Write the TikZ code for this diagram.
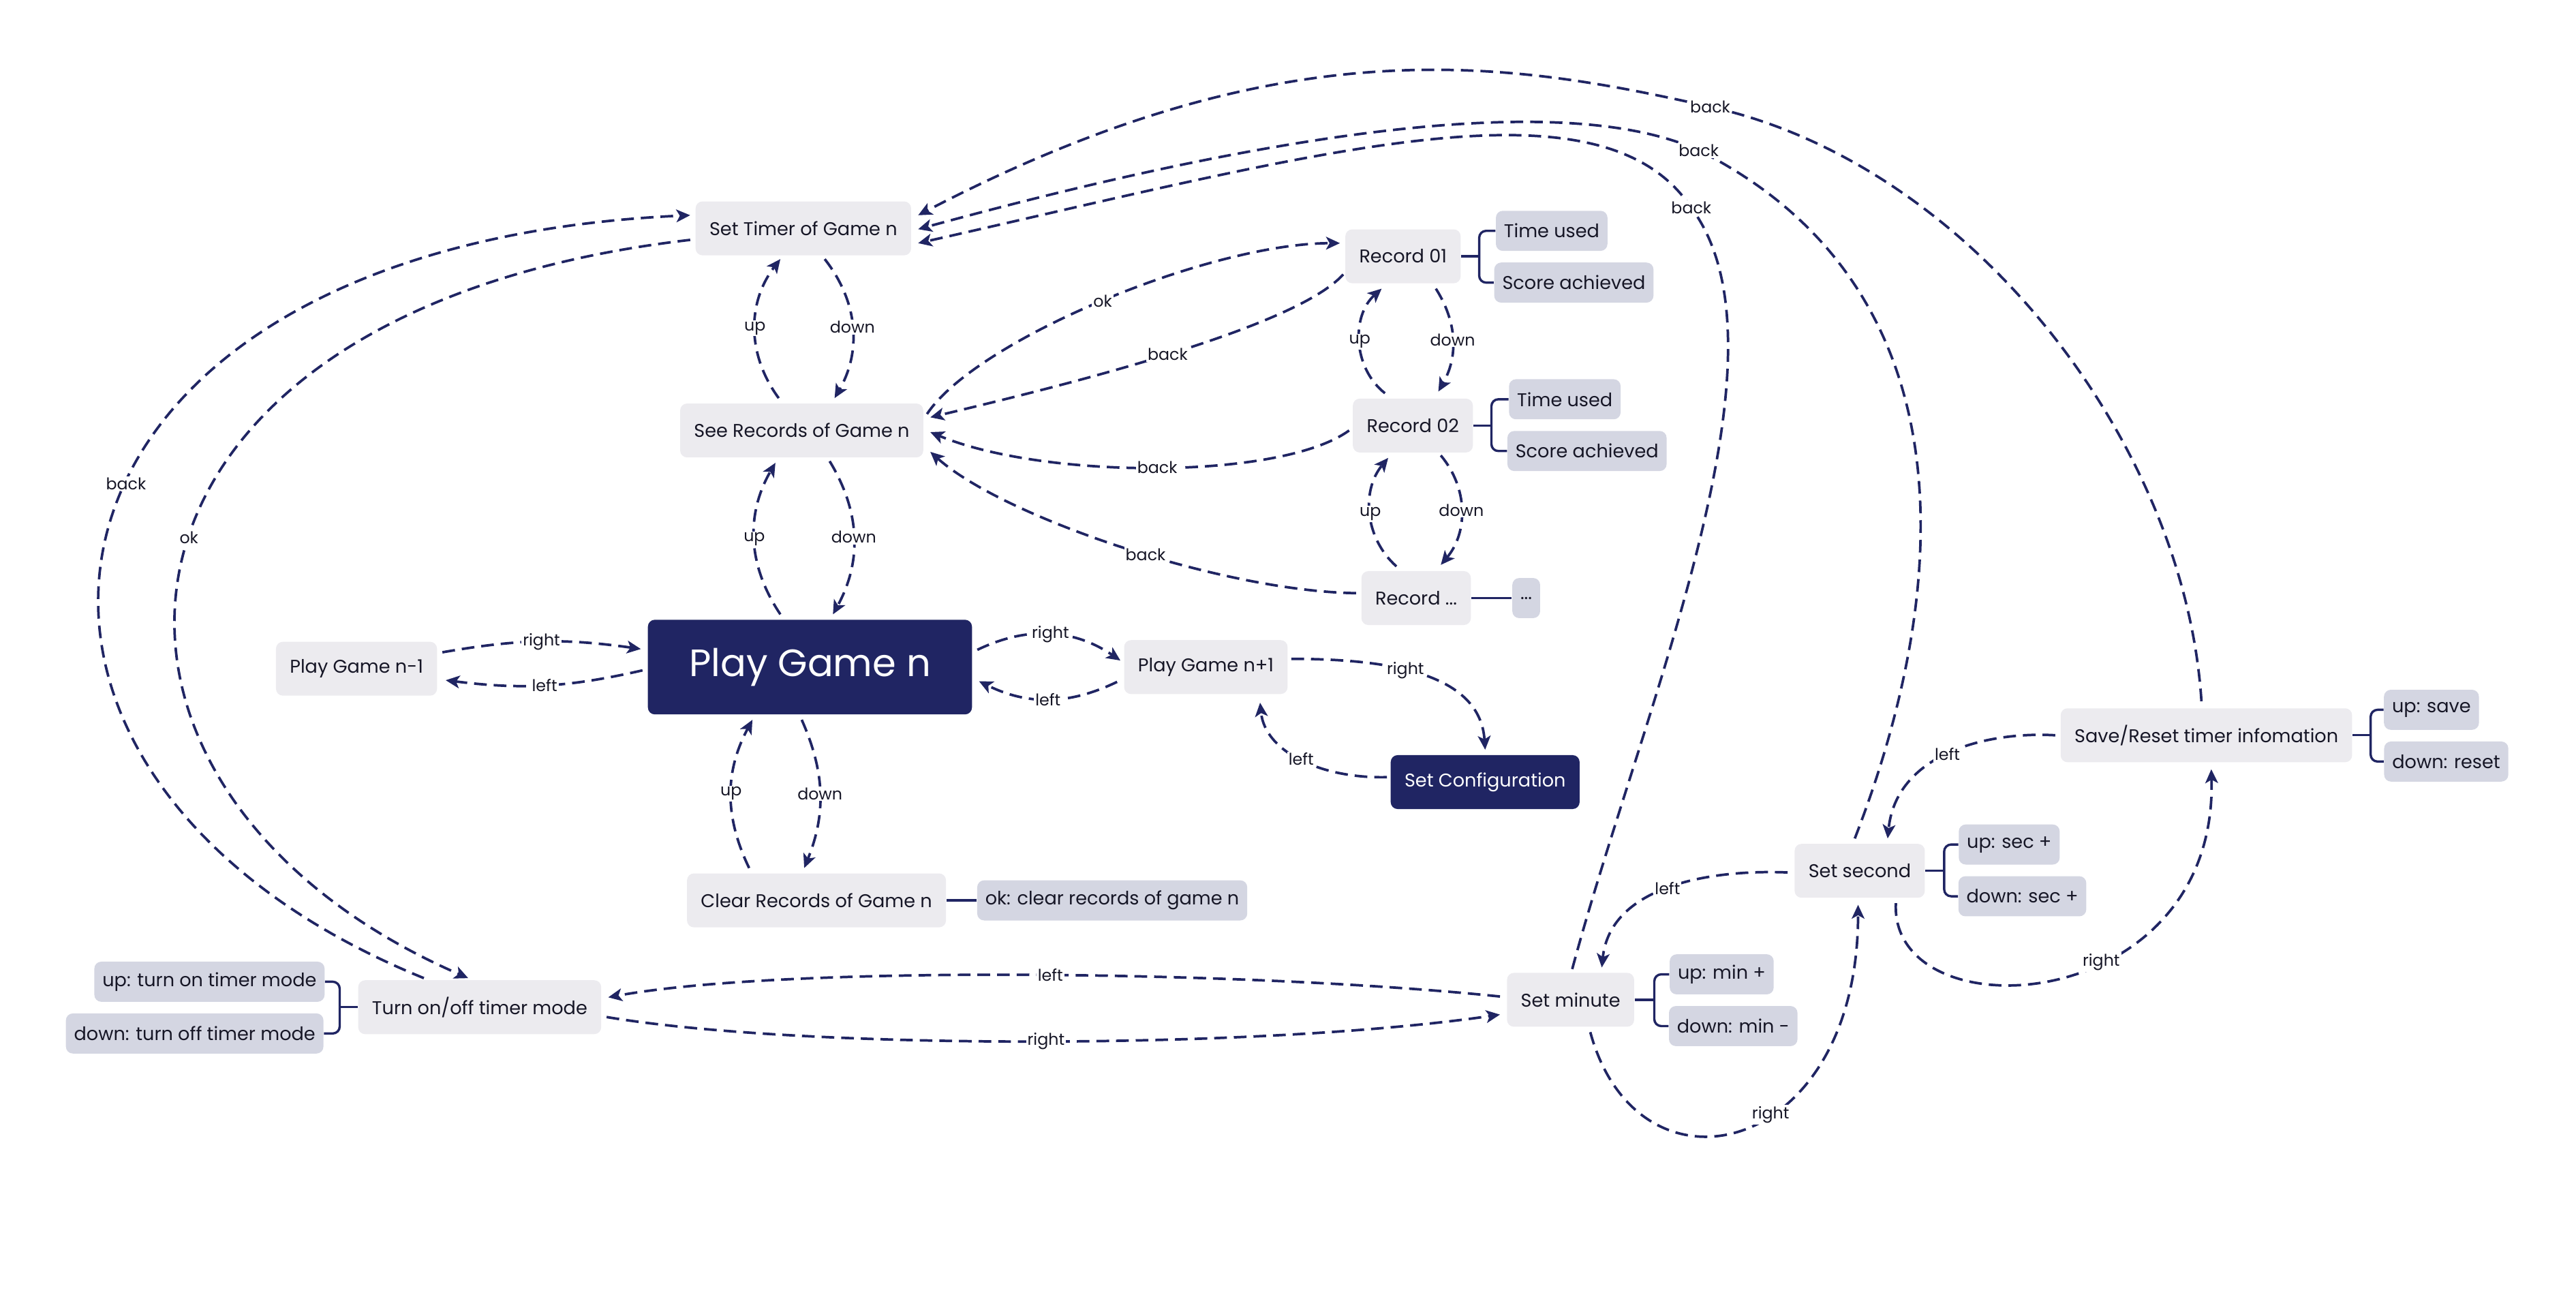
\documentclass[tikz,border=0pt]{standalone}
\usepackage{fontspec}
\setmainfont{Poppins}
\usetikzlibrary{arrows.meta,calc}
\definecolor{navy}{RGB}{32,37,99}
\definecolor{boxgray}{RGB}{236,235,239}
\definecolor{leafgray}{RGB}{212,214,226}
\definecolor{txt}{RGB}{22,22,38}
\begin{document}
\begin{tikzpicture}[x=0.025cm, y=-0.025cm,
  box/.style={fill=boxgray, text=txt, rounded corners=3pt, minimum height=0.82cm, inner xsep=6pt, font=\fontsize{8}{9.6}\selectfont},
  dark/.style={box, fill=navy, text=white},
  leaf/.style={fill=leafgray, text=txt, rounded corners=3pt, minimum height=0.61cm, inner xsep=3.5pt, font=\fontsize{8}{9.6}\selectfont},
  nav/.style={draw=navy, line width=1.1pt, dash pattern=on 5.5pt off 3pt, -{Stealth[length=6pt, width=5.5pt, inset=1.5pt]}},
  lbl/.style={fill=white, text=txt, inner sep=0.6pt, font=\fontsize{7}{8}\selectfont},
  leafln/.style={draw=navy, line width=1pt}]
\useasboundingbox (0,0) rectangle (1568,789);

% Nodos principales
\node [box] (settimer) at (489,139) {Set Timer of Game n};
\node [box] (seerec) at (488,262) {See Records of Game n};
\node [dark, minimum width=4.93cm, minimum height=1.44cm, font=\fontsize{16.5}{19}\selectfont] (play) at (493,406) {Play Game n};
\node [box] (playm) at (217,407) {Play Game n-1};
\node [box] (playp) at (734,406) {Play Game n+1};
\node [dark] (config) at (904,476) {Set Configuration};
\node [box] (clear) at (497,548) {Clear Records of Game n};
\node [leaf] (clearok) at (677,548) {ok: clear records of game n};

% Registros
\node [box] (rec1) at (854,156) {Record 01};
\node [leaf] (rec1t) at (944.5,140.5) {Time used};
\node [leaf] (rec1s) at (958,172) {Score achieved};
\node [box] (rec2) at (860,259) {Record 02};
\node [leaf] (rec2t) at (952.5,243) {Time used};
\node [leaf] (rec2s) at (966,274.5) {Score achieved};
\node [box] (rec3) at (862,364) {Record ...};
\node [leaf] (rec3d) at (929,364) {...};

% Temporizador
\node [box] (turn) at (292,613) {Turn on/off timer mode};
\node [leaf] (turnup) at (127.5,597.5) {up: turn on timer mode};
\node [leaf] (turndown) at (118.5,629) {down: turn off timer mode};
\node [box] (minute) at (956,608.5) {Set minute};
\node [leaf] (minup) at (1048,593) {up: min +};
\node [leaf] (mindown) at (1055,624.5) {down: min -};
\node [box] (second) at (1132,530) {Set second};
\node [leaf] (secup) at (1223,514) {up: sec +};
\node [leaf] (secdown) at (1231,545.5) {down: sec +};
\node [box] (save) at (1343,447.5) {Save/Reset timer infomation};
\node [leaf] (saveup) at (1480,432) {up: save};
\node [leaf] (savedown) at (1489,463.5) {down: reset};

% Ramas de las hojas
\draw [leafln] (rec1.east) -- ++(11,0) coordinate (j1);
\draw [leafln, rounded corners=3pt] (rec1t.west) -| (j1) |- (rec1s.west);
\draw [leafln] (rec2.east) -- ++(11,0) coordinate (j2);
\draw [leafln, rounded corners=3pt] (rec2t.west) -| (j2) |- (rec2s.west);
\draw [leafln] (rec3.east) -- (rec3d.west);
\draw [leafln] (clear.east) -- (clearok.west);
\draw [leafln] (turn.west) -- ++(-11,0) coordinate (j3);
\draw [leafln, rounded corners=3pt] (turnup.east) -| (j3) |- (turndown.east);
\draw [leafln] (minute.east) -- ++(12,0) coordinate (j4);
\draw [leafln, rounded corners=3pt] (minup.west) -| (j4) |- (mindown.west);
\draw [leafln] (second.east) -- ++(11.5,0) coordinate (j5);
\draw [leafln, rounded corners=3pt] (secup.west) -| (j5) |- (secdown.west);
\draw [leafln] (save.east) -- ++(11,0) coordinate (j6);
\draw [leafln, rounded corners=3pt] (saveup.west) -| (j6) |- (savedown.west);

% Arriba / abajo
\draw [nav] ($(settimer.south)+(13,2)$) to[bend left=34] node[lbl]{down} ($(seerec.north)+(20,-3)$);
\draw [nav] ($(seerec.north)+(-14,-3)$) to[bend left=37] node[lbl]{up} ($(settimer.south)+(-14,2)$);
\draw [nav] ($(seerec.south)+(17,2)$) to[bend left=30] node[lbl]{down} ($(play.north)+(14,-3)$);
\draw [nav] ($(play.north)+(-18,-3)$) to[bend left=32] node[lbl]{up} ($(seerec.south)+(-16,3)$);
\draw [nav] ($(play.south)+(-5,3)$) to[bend left=23] node[lbl]{down} ($(clear.north)+(-7.5,-3)$);
\draw [nav] ($(clear.north)+(-41,-3)$) to[bend left=27] node[lbl]{up} ($(play.south)+(-35,3)$);
\draw [nav] ($(rec1.south)+(20,3)$) to[bend left=31] node[lbl]{down} ($(rec2.north)+(15.5,-4)$);
\draw [nav] ($(rec2.north)+(-17,-3)$) to[bend left=50] node[lbl]{up} ($(rec1.south)+(-13,3)$);
\draw [nav] ($(rec2.south)+(17,1.5)$) to[bend left=40] node[lbl]{down} ($(rec3.north)+(15,-3.5)$);
\draw [nav] ($(rec3.north)+(-12,-2.6)$) to[bend left=44] node[lbl]{up} ($(rec2.south)+(-15,3)$);

% Izquierda / derecha
\draw [nav] ($(playm.east)+(3,-10)$) to[bend left=9] node[lbl]{right} ($(play.west)+(-4,-11)$);
\draw [nav] ($(play.west)+(-3,2)$) to[bend left=10] node[lbl]{left} ($(playm.east)+(5,7)$);
\draw [nav] ($(play.east)+(3,-10.5)$) to[bend left=30] node[lbl]{right} ($(playp.west)+(-2,-4)$);
\draw [nav] ($(playp.west)+(-4,9)$) to[bend left=26] node[lbl]{left} ($(play.east)+(4,8.6)$);
\draw [nav] ($(playp.east)+(2,-5)$) .. controls (846,401) and (901,410) .. node[lbl, pos=.42]{right} ($(config.north)+(0,-3)$);
\draw [nav] ($(config.west)+(-2,-3)$) .. controls (805,474) and (770,458) .. node[lbl]{left} ($(playp.south)+(33,5)$);

% Ver registros
\draw [nav] ($(seerec.east)+(2,-10)$) .. controls (594,207) and (736,148) .. node[lbl]{ok} ($(rec1.west)+(-3,-8)$);
\draw [nav] ($(rec1.west)+(-1,11)$) .. controls (788,200) and (646,235) .. node[lbl]{back} ($(seerec.east)+(4,-8)$);
\draw [nav] ($(rec2.west)+(-2,3)$) .. controls (780,292) and (636,292) .. node[lbl]{back} ($(seerec.east)+(4,1)$);
\draw [nav] ($(rec3.west)+(-3,-3)$) .. controls (745,360) and (611,315) .. node[lbl, pos=.45]{back} ($(seerec.east)+(4,13)$);

% Modo temporizador
\draw [nav] ($(settimer.west)+(-3,7)$) .. controls (40,190) and (20,480) .. node[lbl, pos=.47]{ok} ($(turn.north)+(-7,-1)$);
\draw [nav] ($(turn.north)+(-34,-1)$) .. controls (-50,470) and (0,150) .. node[lbl, pos=.55]{back} ($(settimer.west)+(-3,-8)$);
\draw [nav] ($(turn.east)+(3,6)$) .. controls (489,639) and (765,639) .. node[lbl, pos=.51]{right} ($(minute.west)+(-4,9)$);
\draw [nav] ($(minute.west)+(-4,-2)$) .. controls (764,591) and (480,587) .. node[lbl, pos=.48]{left} ($(turn.east)+(4,-6)$);
\draw [nav] ($(minute.south)+(12,3)$) .. controls (997,735) and (1131,705) .. node[lbl, pos=.58]{right} ($(second.south)+(-1,4)$);
\draw [nav] ($(second.west)+(-4,1)$) .. controls (1039,529) and (980,540) .. node[lbl]{left} ($(minute.north)+(19,-3)$);
\draw [nav] ($(second.south)+(22,3)$) .. controls (1150,630) and (1350,620) .. node[lbl, pos=.6]{right} ($(save.south)+(3,4)$);
\draw [nav] ($(save.west)+(-3,0)$) .. controls (1207,445) and (1154,460) .. node[lbl]{left} ($(second.north)+(17,-3)$);

% Volver al temporizador
\draw [nav] ($(minute.north)+(1,-2)$) .. controls (1000,430) and (1095,215) .. (1029.5,126.5) node[lbl]{back}
  .. controls (974.5,43.5) and (803,93) .. ($(settimer.east)+(4,9)$);
\draw [nav] ($(second.north)+(-3,-3)$) .. controls (1195,340) and (1190,170) .. (1034,91.5) node[lbl]{back}
  .. controls (945.5,51.5) and (752.4,86.5) .. ($(settimer.east)+(4,0.5)$);
\draw [nav] ($(save.north)+(-3,-4)$) .. controls (1330,270) and (1200,100) .. (1041,65) node[lbl]{back}
  .. controls (917,37) and (781,15) .. ($(settimer.east)+(4,-8)$);
\end{tikzpicture}
\end{document}
